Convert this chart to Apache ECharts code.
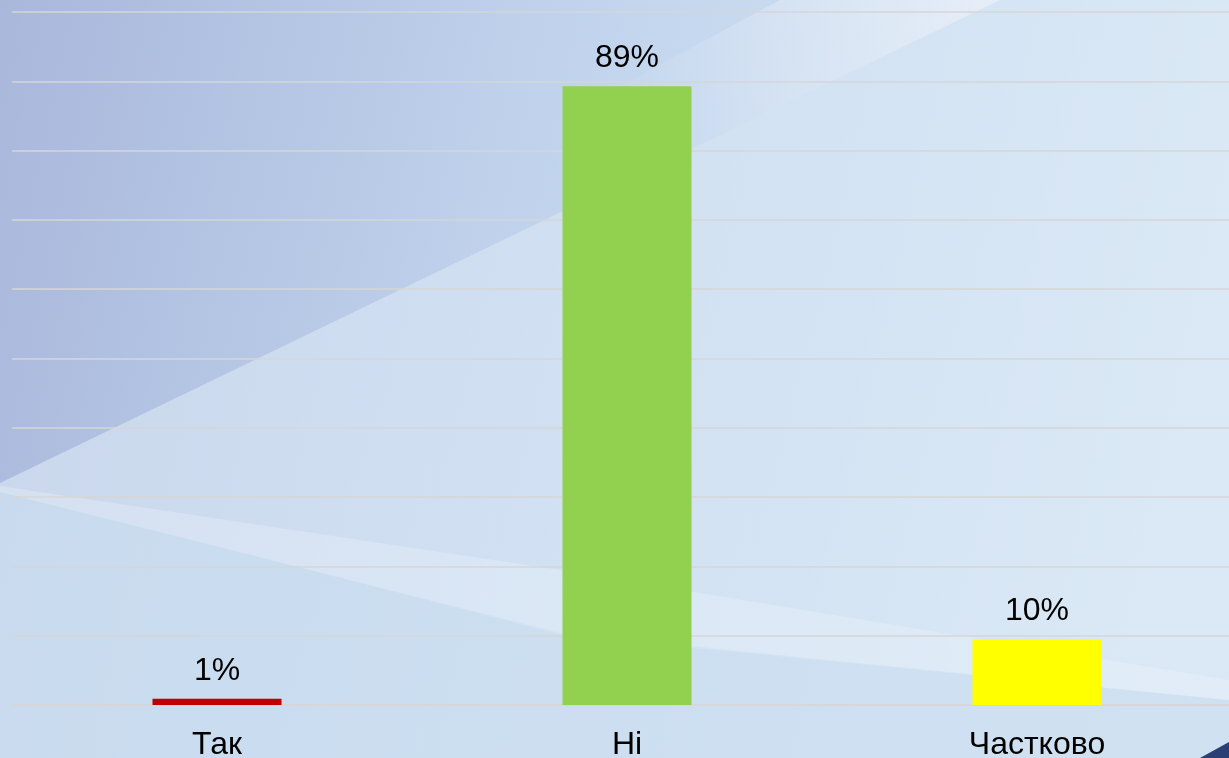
<!DOCTYPE html>
<html>
<head>
<meta charset="utf-8">
<script src="https://cdn.jsdelivr.net/npm/echarts@6/dist/echarts.min.js"></script>
<style>
html,body{margin:0;padding:0;}
#chart{width:1229px;height:758px;}
</style>
</head>
<body>
<div id="chart"></div>
<script>
// categories / values (labels are rounded)
var categories = ['Так', 'Ні', 'Частково'];
var values = [0.9, 89.3, 9.5];
var barColors = ['#c00000', '#92d050', '#ffff00'];
var yTicks = [0, 10, 20, 30, 40, 50, 60, 70, 80, 90, 100];

var myChart = echarts.init(document.getElementById('chart'));

var seriesData = [];
for (var i = 0; i < values.length; i++) {
	seriesData.push({ value: values[i], itemStyle: { color: barColors[i] } });
}

var option = {
	animation: false,
	backgroundColor: new echarts.graphic.LinearGradient(0, 0, 1, 0.35, [
		{ offset: 0, color: '#a9b7db' },
		{ offset: 0.5, color: '#c3d6ee' },
		{ offset: 1, color: '#dde9f5' }
	]),
	// background shapes
	graphic: [
		{
			type: 'polygon', z: -10, silent: true,
			shape: { points: [[0, 483], [1000, 0], [1229, 0], [1229, 758], [0, 758]] },
			style: { fill: new echarts.graphic.LinearGradient(0, 0, 1, 0, [
				{ offset: 0, color: 'rgba(222,234,246,0.6)' },
				{ offset: 1, color: 'rgba(216,232,246,0.5)' }
			]) }
		},
		{
			type: 'polygon', z: -9, silent: true,
			shape: { points: [[0, 483], [1000, 0], [780, 0], [0, 420]] },
			style: { fill: new echarts.graphic.LinearGradient(1, 0, 0.6, 0.2, [
				{ offset: 0, color: 'rgba(238,243,250,0.7)' },
				{ offset: 1, color: 'rgba(238,243,250,0)' }
			]) }
		},
		{
			type: 'polygon', z: -9, silent: true,
			shape: { points: [[0, 490], [560, 635], [1229, 700], [1229, 758], [0, 758]] },
			style: { fill: 'rgba(200,220,238,0.6)' }
		},
		{
			type: 'polygon', z: -9, silent: true,
			shape: { points: [[0, 486], [560, 570], [1229, 680], [1229, 700], [560, 633], [0, 492]] },
			style: { fill: 'rgba(240,245,252,0.3)' }
		},
		{
			type: 'polygon', z: -8, silent: true,
			shape: { points: [[1200, 758], [1229, 742], [1229, 758]] },
			style: { fill: '#2a3f73' }
		}
	],
	grid: {
		left: 12,
		width: 1230,
		top: 12,
		bottom: 53,
		outerBoundsMode: 'none'
	},
	xAxis: {
		type: 'category',
		data: categories,
		axisLine: { lineStyle: { color: '#d6d6d6', width: 1.5 } },
		axisTick: { show: false },
		axisLabel: {
			color: '#000',
			fontSize: 32,
			fontFamily: 'Liberation Sans',
			margin: 24
		}
	},
	yAxis: {
		type: 'value',
		min: yTicks[0],
		max: yTicks[yTicks.length - 1],
		interval: 10,
		axisLabel: { show: false },
		axisLine: { show: false },
		axisTick: { show: false },
		splitLine: { lineStyle: { color: '#d6d6d6', width: 1.5 } }
	},
	series: [{
		type: 'bar',
		data: seriesData,
		barWidth: 129,
		label: {
			show: true,
			position: 'top',
			distance: 12,
			color: '#000',
			fontSize: 32,
			fontFamily: 'Liberation Sans',
			formatter: function (p) { return Math.round(p.value) + '%'; }
		}
	}]
};
myChart.setOption(option);
</script>
</body>
</html>
